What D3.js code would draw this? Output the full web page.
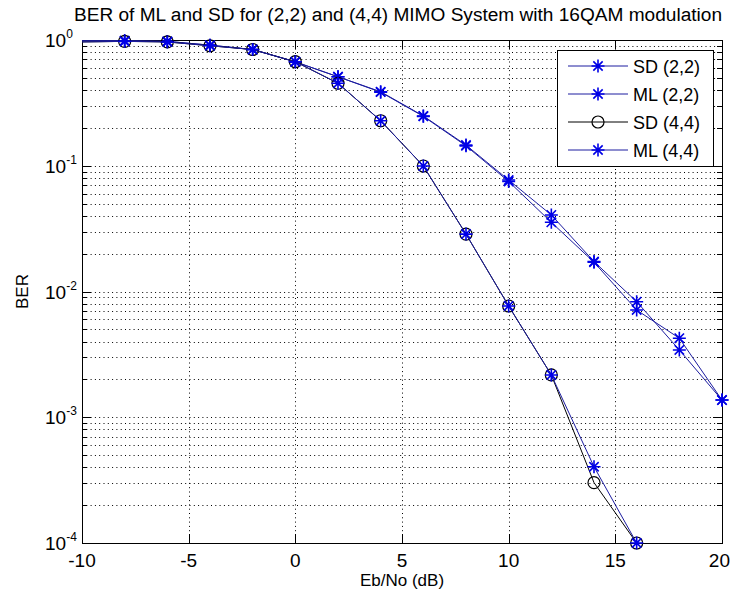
<!DOCTYPE html>
<html>
<head>
<meta charset="utf-8">
<script src="https://cdnjs.cloudflare.com/ajax/libs/d3/7.8.5/d3.min.js"></script>
<style>
body { margin: 0; background: #fff; }
text { font-family: "Liberation Sans", Arial, sans-serif; fill: #000; }
</style>
</head>
<body>
<script>

// values
var snr22 = [-10, -8, -6, -4, -2, 0, 2, 4, 6, 8, 10, 12, 14, 16, 18, 20];
var sd22 = [0.985, 0.985, 0.975, 0.91, 0.84, 0.67, 0.51, 0.388, 0.249, 0.146, 0.077, 0.0406, 0.0173, 0.0083, 0.00343, 0.00137];
var ml22 = [0.985, 0.985, 0.975, 0.91, 0.84, 0.67, 0.51, 0.385, 0.247, 0.144, 0.075, 0.0355, 0.0171, 0.00713, 0.00425, 0.00137];

var snr44 = [-10, -8, -6, -4, -2, 0, 2, 4, 6, 8, 10, 12, 14, 16];
var sd44 = [0.965, 0.975, 0.965, 0.9, 0.84, 0.672, 0.453, 0.228, 0.0995, 0.0286, 0.00767, 0.00217, 0.000302, 0.0001];
var ml44 = [0.965, 0.975, 0.965, 0.9, 0.84, 0.672, 0.453, 0.228, 0.0995, 0.0286, 0.00767, 0.00217, 0.000404, 0.0001];

var xTicks = [-10, -5, 0, 5, 10, 15, 20];
var yDecades = [-4, -3, -2, -1, 0];
var legendLabels = ["SD (2,2)", "ML (2,2)", "SD (4,4)", "ML (4,4)"];
var title = "BER of ML and SD for (2,2) and (4,4) MIMO System with 16QAM modulation";

var width = 731,
    height = 599;

var svg = d3.select("body").append("svg")
    .attr("width", width)
    .attr("height", height);

var x = d3.scaleLinear().domain([-10, 20]).range([82, 722]);
var y = d3.scaleLog().domain([1e-4, 1]).range([543, 40]);

var blueLine = "#1c1ca0",
    blueMark = "#0000e6";

// minor + major values for the log axis
var yAll = [];
yDecades.slice(0, -1).forEach(function (d) {
    for (var k = 1; k < 10; k++) yAll.push(k * Math.pow(10, d));
});
yAll.push(1);

// grid (dotted)
var grid = svg.append("g")
    .attr("stroke", "#000")
    .attr("stroke-width", 1)
    .attr("stroke-dasharray", "1,3.3");

grid.selectAll(".gx")
    .data(xTicks.slice(1, -1))
    .enter().append("line")
    .attr("x1", d => Math.round(x(d)) + 0.5)
    .attr("x2", d => Math.round(x(d)) + 0.5)
    .attr("y1", y(1))
    .attr("y2", y(1e-4));

grid.selectAll(".gy")
    .data(yAll.filter(d => d > 1e-4 && d < 1))
    .enter().append("line")
    .attr("y1", d => Math.round(y(d)) + 0.5)
    .attr("y2", d => Math.round(y(d)) + 0.5)
    .attr("x1", x(-10))
    .attr("x2", x(20));

// ticks pointing inward, on all four sides
var ticks = svg.append("g").attr("stroke", "#000").attr("stroke-width", 1);

yAll.forEach(function (v) {
    var major = Math.abs(Math.log10(v) - Math.round(Math.log10(v))) < 1e-9;
    var len = major ? 9 : 5;
    var yy = Math.round(y(v)) + 0.5;
    ticks.append("line").attr("x1", x(-10)).attr("x2", x(-10) + len).attr("y1", yy).attr("y2", yy);
    ticks.append("line").attr("x1", x(20)).attr("x2", x(20) - len).attr("y1", yy).attr("y2", yy);
});
xTicks.forEach(function (v) {
    var xx = Math.round(x(v)) + 0.5;
    ticks.append("line").attr("x1", xx).attr("x2", xx).attr("y1", y(1e-4)).attr("y2", y(1e-4) - 9);
    ticks.append("line").attr("x1", xx).attr("x2", xx).attr("y1", y(1)).attr("y2", y(1) + 9);
});

// axes box
svg.append("rect")
    .attr("x", x(-10) + 0.5)
    .attr("y", y(1) + 0.5)
    .attr("width", x(20) - x(-10))
    .attr("height", y(1e-4) - y(1))
    .attr("fill", "none")
    .attr("stroke", "#000")
    .attr("stroke-width", 1);

// tick labels (the last one is pulled in so it stays on the page)
svg.selectAll(".xl")
    .data(xTicks)
    .enter().append("text")
    .attr("x", d => d == 20 ? width - 1 : x(d))
    .attr("y", 567)
    .attr("text-anchor", d => d == 20 ? "end" : "middle")
    .style("font-size", "19px")
    .text(d => d);

var yl = svg.selectAll(".yl")
    .data(yDecades)
    .enter().append("text")
    .attr("x", 45)
    .attr("y", d => y(Math.pow(10, d)) + 7)
    .style("font-size", "19px");
yl.append("tspan").text("10");
yl.append("tspan")
    .attr("dy", -9)
    .style("font-size", "12px")
    .text(d => d);

// axis labels and title
svg.append("text")
    .attr("x", (x(-10) + x(20)) / 2)
    .attr("y", 586)
    .attr("text-anchor", "middle")
    .style("font-size", "17px")
    .text("Eb/No (dB)");

svg.append("text")
    .attr("transform", "translate(28," + (y(1) + y(1e-4)) / 2 + ") rotate(-90)")
    .attr("text-anchor", "middle")
    .style("font-size", "17px")
    .text("BER");

svg.append("text")
    .attr("x", 398)
    .attr("y", 21)
    .attr("text-anchor", "middle")
    .attr("textLength", 648)
    .attr("lengthAdjust", "spacingAndGlyphs")
    .style("font-size", "18px")
    .text(title);

// markers
function starPath(r) {
    var a = r * 0.72;
    return "M" + (-r) + ",0H" + r + "M0," + (-r) + "V" + r +
        "M" + (-a) + "," + (-a) + "L" + a + "," + a +
        "M" + (-a) + "," + a + "L" + a + "," + (-a);
}

function drawMarker(g, type, color) {
    if (type == "star") {
        g.append("path").attr("d", starPath(6.5))
            .attr("fill", "none").attr("stroke", color).attr("stroke-width", 1.6);
    } else {
        g.append("circle").attr("r", 6)
            .attr("fill", "none").attr("stroke", color).attr("stroke-width", 1.2);
    }
}

var series = [
    { name: legendLabels[0], xs: snr22, ys: sd22, line: blueLine, mark: blueMark, marker: "star" },
    { name: legendLabels[1], xs: snr22, ys: ml22, line: blueLine, mark: blueMark, marker: "star" },
    { name: legendLabels[2], xs: snr44, ys: sd44, line: "#000", mark: "#000", marker: "circle" },
    { name: legendLabels[3], xs: snr44, ys: ml44, line: blueLine, mark: blueMark, marker: "star" }
];

var line = d3.line().x(d => x(d[0])).y(d => y(d[1]));

series.forEach(function (s) {
    var pts = s.xs.map((v, i) => [v, s.ys[i]]);
    var g = svg.append("g");
    g.append("path")
        .attr("d", line(pts))
        .attr("fill", "none")
        .attr("stroke", s.line)
        .attr("stroke-width", 1);
    g.selectAll("g")
        .data(pts.filter(d => d[0] > -10))
        .enter().append("g")
        .attr("transform", d => "translate(" + x(d[0]) + "," + y(d[1]) + ")")
        .each(function () { drawMarker(d3.select(this), s.marker, s.mark); });
});

// legend
var leg = svg.append("g");
leg.append("rect")
    .attr("x", 557.5).attr("y", 50.5)
    .attr("width", 156).attr("height", 116)
    .attr("fill", "#fff").attr("stroke", "#000");

series.forEach(function (s, i) {
    var yy = 66 + i * 28;
    leg.append("line")
        .attr("x1", 568).attr("x2", 628)
        .attr("y1", yy).attr("y2", yy)
        .attr("stroke", s.line).attr("stroke-width", 1);
    var m = leg.append("g").attr("transform", "translate(598," + yy + ")");
    drawMarker(m, s.marker, s.mark);
    leg.append("text")
        .attr("x", 633).attr("y", yy + 7)
        .style("font-size", "18px")
        .text(s.name);
});

</script>
</body>
</html>
